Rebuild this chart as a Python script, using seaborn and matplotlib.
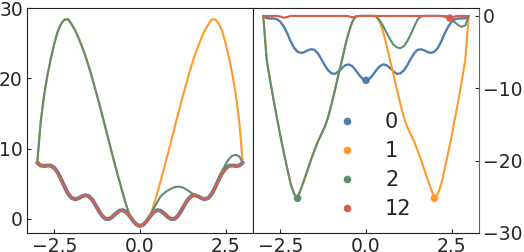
import numpy as np
import pandas as pd
import matplotlib
matplotlib.use("Agg")
import matplotlib.pyplot as plt
import seaborn as sns

# ---- data ----
x = np.round(np.linspace(-3.0, 3.0, 61), 1)

left_0 = [8.00, 7.60, 7.53, 7.60, 7.57, 7.25, 6.57, 5.60, 4.53, 3.60, 3.00, 2.80, 2.93, 3.20, 3.37,
          3.25, 2.77, 2.00, 1.13, 0.40, 0.00, 0.00, 0.33, 0.80, 1.17, 1.25, 0.97, 0.40, -0.27, -0.80,
          -1.00,
          -0.80, -0.27, 0.40, 0.97, 1.25, 1.17, 0.80, 0.33, 0.00, 0.00, 0.40, 1.13, 2.00, 2.77,
          3.25, 3.37, 3.20, 2.93, 2.80, 3.00, 3.60, 4.53, 5.60, 6.57, 7.25, 7.57, 7.60, 7.53, 7.60, 8.00]
left_1 = [8.0, 13.8, 17.6, 20.5, 22.9, 25.0, 26.7, 27.8, 28.35, 28.4, 27.7, 26.85, 25.8, 24.6, 23.25,
          21.75, 20.1, 18.35, 16.55, 14.7, 12.8, 10.9, 9.0, 7.15, 5.35, 3.6, 1.95, 0.45, -0.27, -0.80,
          -1.00,
          -0.80, -0.27, 0.45, 1.95, 3.6, 5.35, 7.15, 9.0, 10.9, 12.8, 14.7, 16.55, 18.35, 20.1,
          21.75, 23.25, 24.6, 25.8, 26.85, 27.7, 28.4, 28.35, 27.8, 26.7, 25.0, 22.9, 20.5, 17.6, 13.8, 8.0]
left_2 = [8.0, 13.8, 17.6, 20.5, 22.9, 25.0, 26.7, 27.8, 28.35, 28.4, 27.7, 26.85, 25.8, 24.6, 23.25,
          21.75, 20.1, 18.35, 16.55, 14.7, 12.8, 10.9, 9.0, 7.15, 5.35, 3.6, 1.95, 0.45, -0.27, -0.80,
          -1.00,
          -0.80, -0.27, 0.60, 1.50, 2.35, 3.20, 3.65, 4.00, 4.30, 4.50, 4.60, 4.55, 4.35, 4.05,
          3.70, 3.42, 3.20, 2.93, 2.80, 3.00, 3.60, 4.53, 5.70, 6.80, 7.80, 8.55, 9.00, 9.10, 8.90, 8.00]
left_12 = [8.00, 7.60, 7.53, 7.60, 7.57, 7.20, 6.45, 5.50, 4.53, 3.60, 3.00, 2.80, 2.93, 3.20, 3.37,
           3.25, 2.77, 2.00, 1.13, 0.40, 0.00, 0.00, 0.33, 0.80, 1.17, 1.20, 0.85, 0.35, -0.27, -0.80,
           -1.00,
           -0.80, -0.27, 0.40, 0.97, 1.25, 1.17, 0.80, 0.33, 0.00, 0.00, 0.40, 1.13, 2.00, 2.77,
           3.25, 3.37, 3.20, 2.93, 2.80, 3.00, 3.60, 4.53, 5.50, 6.35, 7.00, 7.55, 7.60, 7.53, 7.60, 8.00]

right_0 = [0.0, -0.3, -0.35, -0.35, -0.45, -0.8, -1.5, -2.4, -3.5, -4.4, -4.95, -5.1, -5.0, -4.75, -4.6,
           -4.7, -5.2, -6.0, -6.85, -7.55, -7.95, -8.0, -7.65, -7.2, -6.8, -6.7, -6.95, -7.5, -8.15, -8.7,
           -8.9,
           -8.7, -8.15, -7.5, -6.95, -6.7, -6.8, -7.2, -7.65, -8.0, -7.95, -7.55, -6.85, -6.0, -5.2,
           -4.7, -4.6, -4.75, -5.0, -5.1, -4.95, -4.4, -3.5, -2.4, -1.5, -0.8, -0.45, -0.35, -0.35, -0.3, 0.0]
right_1 = [0.0, -6.1, -8.9, -11.6, -14.1, -16.6, -18.9, -21.1, -23.2, -24.6, -25.2, -23.9, -22.6, -21.2, -19.8,
           -18.5, -17.3, -16.3, -15.3, -13.9, -12.1, -10.1, -8.0, -6.1, -4.0, -2.2, -0.8, -0.05, 0.0, 0.0,
           0.0,
           0.0, 0.0, -0.05, -0.8, -2.2, -4.0, -6.1, -8.0, -10.1, -12.1, -13.9, -15.3, -16.3, -17.3,
           -18.5, -19.8, -21.2, -22.6, -23.9, -25.2, -24.6, -23.2, -21.1, -18.9, -16.6, -14.1, -11.6, -8.9, -6.1, 0.0]
right_2 = [0.0, -6.1, -8.9, -11.6, -14.1, -16.6, -18.9, -21.1, -23.2, -24.6, -25.2, -23.9, -22.6, -21.2, -19.8,
           -18.5, -17.3, -16.3, -15.3, -13.9, -12.1, -10.1, -8.0, -6.1, -4.0, -2.2, -0.8, -0.05, 0.0, 0.0,
           0.0,
           0.0, 0.0, -0.1, -0.6, -1.4, -2.3, -3.2, -3.95, -4.35, -4.45, -4.2, -3.55, -2.6, -1.55,
           -0.55, -0.05, 0.0, 0.0, 0.0, 0.0, 0.0, 0.0, 0.0, -0.1, -0.45, -0.9, -1.3, -1.5, -1.3, 0.0]
right_12 = [0.0, 0.0, 0.0, 0.0, 0.0, -0.1, -0.25, -0.15, 0.0, 0.0, 0.0, 0.0, 0.0, 0.0, 0.0,
            0.0, 0.0, 0.0, 0.0, 0.0, 0.0, 0.0, 0.0, 0.0, 0.0, -0.05, -0.2, -0.1, 0.0, 0.0,
            0.0,
            0.0, 0.0, 0.0, 0.0, 0.0, 0.0, 0.0, 0.0, 0.0, 0.0, 0.0, 0.0, 0.0, 0.0,
            0.0, 0.0, 0.0, 0.0, 0.0, 0.0, 0.0, 0.0, -0.1, -0.3, -0.3, -0.05, 0.0, 0.0, 0.0, 0.0]

labels = ["0", "1", "2", "12"]
min_x = [0.0, 2.0, -2.0, 2.45]
min_y = [-8.9, -25.2, -25.2, -0.3]

colors = {"0": "#4e7fae", "1": "#fd9a2a", "2": "#5b8f6d", "12": "#d4614a"}

left_series = {"0": left_0, "1": left_1, "2": left_2, "12": left_12}
right_series = {"0": right_0, "1": right_1, "2": right_2, "12": right_12}
left_lw = {"0": 2.9, "1": 1.5, "2": 1.5, "12": 1.8}
right_lw = {"0": 1.7, "1": 1.5, "2": 1.5, "12": 1.6}

# ---- style ----
sns.set_style("ticks")
plt.rcParams["font.family"] = ["DejaVu Sans"]
plt.rcParams["xtick.direction"] = "in"
plt.rcParams["ytick.direction"] = "in"

fig = plt.figure(figsize=(5.24, 2.52), dpi=100)
axL = fig.add_subplot(1, 2, 1)
axR = fig.add_subplot(1, 2, 2)
fig.subplots_adjust(left=27 / 524, right=479 / 524, bottom=19 / 252, top=244 / 252, wspace=0)

for lab in labels:
    sns.lineplot(x=x, y=left_series[lab], ax=axL, color=colors[lab], lw=left_lw[lab], legend=False)
for lab in labels:
    sns.lineplot(x=x, y=right_series[lab], ax=axR, color=colors[lab], lw=right_lw[lab], legend=False)

pts = pd.DataFrame({"x": min_x, "y": min_y, "label": labels})
sns.scatterplot(data=pts, x="x", y="y", hue="label", hue_order=labels, palette=colors,
                s=30, linewidth=0, ax=axR, zorder=5)

leg = axR.get_legend()
handles = leg.legend_handles
texts = [t.get_text() for t in leg.get_texts()]
leg.remove()
axR.legend(handles, texts, loc="upper left", bbox_to_anchor=(0.285, 0.575), frameon=False,
           fontsize=15, handletextpad=0.85, labelspacing=0.44, borderaxespad=0)

tick_fs = 13.5
for ax in (axL, axR):
    ax.set_xlim(-3.3, 3.3)
    ax.set_xticks([-2.5, 0.0, 2.5])
    ax.set_xticklabels(["\u22122.5", "0.0", "2.5"])
    ax.tick_params(labelsize=tick_fs, length=3, width=0.8, pad=3)
    ax.set_xlabel("")
    ax.set_ylabel("")
    for sp in ax.spines.values():
        sp.set_visible(True)
        sp.set_color("#222222")

axL.set_ylim(-2, 30)
axL.set_yticks([0, 10, 20, 30])
axL.set_yticklabels(["0", "10", "20", "30"])

axR.set_ylim(-30, 1.1)
axR.set_yticks([0, -10, -20, -30])
axR.set_yticklabels(["0", "\u221210", "\u221220", "\u221230"])
axR.yaxis.tick_right()
axR.spines["right"].set_color("#666666")

fig.savefig("out.png", dpi=100)
